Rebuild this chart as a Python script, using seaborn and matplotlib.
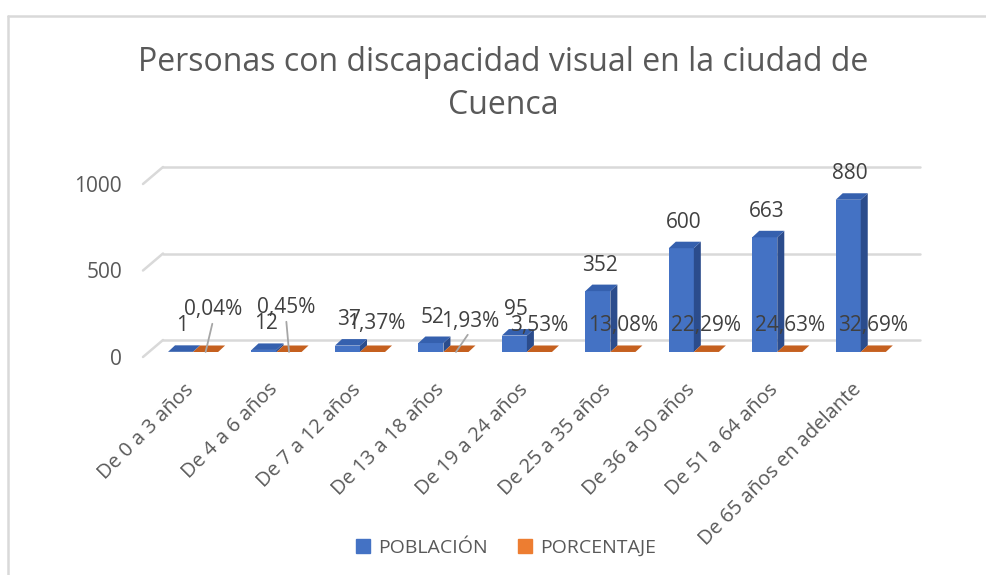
import matplotlib
matplotlib.use("Agg")
import matplotlib.pyplot as plt
from matplotlib.patches import Polygon, Patch
from matplotlib.lines import Line2D
import matplotlib.transforms as mtransforms
import pandas as pd
import seaborn as sns

# Datos
categorias = ["De 0 a 3 años", "De 4 a 6 años", "De 7 a 12 años", "De 13 a 18 años",
              "De 19 a 24 años", "De 25 a 35 años", "De 36 a 50 años", "De 51 a 64 años",
              "De 65 años en adelante"]
poblacion = [1, 12, 37, 52, 95, 352, 600, 663, 880]
porcentaje = [0.04, 0.45, 1.37, 1.93, 3.53, 13.08, 22.29, 24.63, 32.69]  # en %
series = ["POBLACIÓN", "PORCENTAJE"]
ticks_y = [0, 500, 1000]

df = pd.DataFrame({
    "categoria": categorias * 2,
    "serie": [series[0]] * len(categorias) + [series[1]] * len(categorias),
    "valor": poblacion + [p / 100 for p in porcentaje],
})

# Estilo
sns.set_theme(style="white")
plt.rcParams["font.family"] = ["Open Sans", "DejaVu Sans"]

azul, azul_top, azul_lado = "#4472C4", "#3560AE", "#2B4C8C"
naranja, naranja_top, naranja_lado = "#ED7D31", "#C5601F", "#A84E14"
gris_texto = "#595959"
gris_label = "#404040"
gris_linea = "#D9D9D9"

W, H = 987, 575
fig = plt.figure(figsize=(W / 100, H / 100), dpi=100)
ax_l, ax_b, ax_w, ax_h = 143, 352, 777, 173
ax = fig.add_axes([ax_l / W, (H - ax_b) / H, ax_w / W, ax_h / H])

sns.barplot(data=df, x="categoria", y="valor", hue="serie", palette=[azul, naranja],
            width=0.6, saturation=1, edgecolor="none", legend=False, ax=ax)

x0lim, x1lim = -0.6, 8.71
ax.set_xlim(x0lim, x1lim)
ax.set_ylim(0, 1000)
px_x = (x1lim - x0lim) / ax_w   # datos por pixel
px_y = 1000 / ax_h

# efecto 3D
dx, dy = 7 * px_x, 6.5 * px_y
colores_3d = [(azul_top, azul_lado), (naranja_top, naranja_lado)]
z = 3
for cont, (c_top, c_lado) in zip(ax.containers, colores_3d):
    for bar in cont:
        x0, w, h = bar.get_x(), bar.get_width(), bar.get_height()
        bar.set_zorder(z)
        ax.add_patch(Polygon([(x0 + w, 0), (x0 + w + dx, dy), (x0 + w + dx, h + dy), (x0 + w, h)],
                             closed=True, fc=c_lado, ec="none", zorder=z))
        ax.add_patch(Polygon([(x0, h), (x0 + dx, h + dy), (x0 + w + dx, h + dy), (x0 + w, h)],
                             closed=True, fc=c_top, ec="none", zorder=z))
    z += 1

# cuadrícula de pared trasera
for v in ticks_y:
    yb = v + 12 * px_y
    yf = v - 5 * px_y
    ax.plot([x0lim, x0lim + 20 * px_x], [yf, yb], color=gris_linea, lw=1.8,
            clip_on=False, zorder=0)
    ax.plot([x0lim + 20 * px_x, x1lim], [yb, yb], color=gris_linea, lw=1.8,
            clip_on=False, zorder=0)

# etiquetas de datos
pt = 72 / 100
for bar, v in zip(ax.containers[0], poblacion):
    cx = bar.get_x() + bar.get_width() / 2
    ax.annotate(str(v), xy=(cx, bar.get_height()), xytext=(2 * pt, 26 * pt),
                textcoords="offset points", ha="center", va="center",
                fontsize=15, color=gris_label, zorder=10)

desplaz = [(7.5, 42), (-3, 44), (3.5, 29), (14, 31), (0, 27), (0, 26), (0, 26), (0, 26), (0, 26)]
guia = [True, True, False, True, False, False, False, False, False]
for bar, p, (ox, oy), g in zip(ax.containers[1], porcentaje, desplaz, guia):
    cx = bar.get_x() + bar.get_width() / 2
    props = dict(arrowstyle="-", color="#A6A6A6", lw=1.3, relpos=(0.5, 0),
                 shrinkA=0, shrinkB=0) if g else None
    ax.annotate(f"{p:.2f}%".replace(".", ","), xy=(cx, 0), xytext=(ox * pt, oy * pt),
                textcoords="offset points", ha="center", va="center",
                fontsize=15, color=gris_label, arrowprops=props, zorder=10)

# ejes
sns.despine(ax=ax, left=True, bottom=True)
ax.set_xlabel("")
ax.set_ylabel("")
ax.set_yticks(ticks_y)
ax.set_yticklabels([str(t) for t in ticks_y])
ax.tick_params(axis="y", length=0, pad=15, labelsize=15, labelcolor=gris_texto)
for lab in ax.get_yticklabels():
    lab.set_transform(lab.get_transform() +
                      mtransforms.ScaledTranslation(0, -5 / 100, fig.dpi_scale_trans))
ax.tick_params(axis="x", length=0, pad=22, labelsize=14.5, labelcolor=gris_texto)
plt.setp(ax.get_xticklabels(), rotation=45, ha="right", rotation_mode="anchor")
for lab in ax.get_xticklabels():
    lab.set_transform(lab.get_transform() +
                      mtransforms.ScaledTranslation(-9 / 100, 3 / 100, fig.dpi_scale_trans))
ax.grid(False)

# título
fig.text(503 / W, 1 - 84 / H, "Personas con discapacidad visual en la ciudad de\nCuenca",
         ha="center", va="center", fontsize=23, color=gris_texto, linespacing=1.42)

# leyenda
handles = [Patch(color=azul, label=series[0]), Patch(color=naranja, label=series[1])]
fig.legend(handles=handles, loc="center", bbox_to_anchor=(506 / W, 1 - 548 / H), ncol=2,
           frameon=False, handlelength=0.7, handleheight=0.7, handletextpad=0.4,
           columnspacing=1.6, fontsize=14, labelcolor=gris_texto)

# marco del gráfico
fy = 1 - 16 / H
fx = 8 / W
fig.add_artist(Line2D([fx, 1], [fy, fy], color=gris_linea, lw=1.8))
fig.add_artist(Line2D([fx, fx], [fy, 0], color=gris_linea, lw=1.8))

fig.savefig("out.png", dpi=100)
